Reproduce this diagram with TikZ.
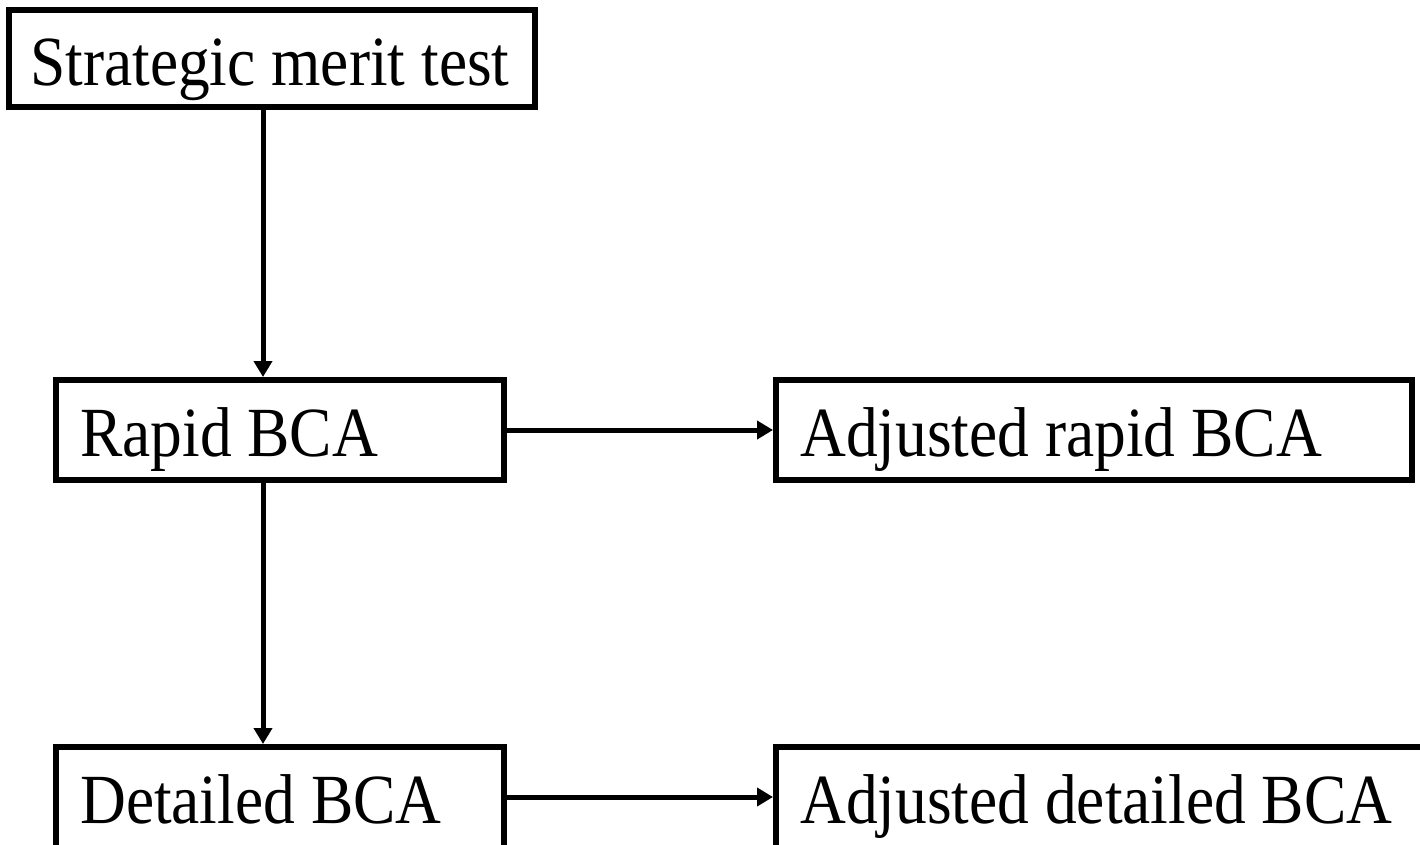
\documentclass[tikz,border=0pt]{standalone}
\usepackage{fontspec}
\setmainfont{Liberation Serif}[FakeStretch=0.9]
\usetikzlibrary{arrows.meta}
\begin{document}
\begin{tikzpicture}[x=1pt,y=-1pt,
  box/.style={draw, line width=6pt, rectangle, inner sep=0pt},
  lbl/.style={anchor=base west, inner sep=0pt, font=\fontsize{70.5}{76}\selectfont},
  conn/.style={line width=5pt, -{Triangle[length=16pt,width=18pt]}}]
  \useasboundingbox (0,0) rectangle (1420,845);
  \clip (0,0) rectangle (1420,845);

  % boxes
  \node[box, minimum width=526pt, minimum height=97pt] (smt) at (271.5,58.5) {};
  \node[box, minimum width=448pt, minimum height=100pt] (rap) at (280,430) {};
  \node[box, minimum width=636pt, minimum height=100pt] (arap) at (1094,430) {};
  \node[box, minimum width=448pt, minimum height=200pt] (det) at (280,847) {};
  \node[box, minimum width=824pt, minimum height=200pt] (adet) at (1188,847) {};

  % labels
  \node[lbl] (tsmt) at (30,86) {Strategic merit test};
  \node[lbl] (trap) at (80,456) {Rapid BCA};
  \node[lbl] (tarap) at (800,456) {Adjusted rapid BCA};
  \node[lbl] (tdet) at (80,823) {Detailed BCA};
  \node[lbl] (tadet) at (800,823) {Adjusted detailed BCA};

  % connector guides
  \coordinate (col) at (263,0);
  \coordinate (lowrow) at (0,797);

  % connectors
  \draw[conn] (smt.south -| col) -- (rap.north -| col);
  \draw[conn] (rap.south -| col) -- (det.north -| col);
  \draw[conn] (rap.east) -- (arap.west);
  \draw[conn] (det.east |- lowrow) -- (adet.west |- lowrow);
\end{tikzpicture}
\end{document}
